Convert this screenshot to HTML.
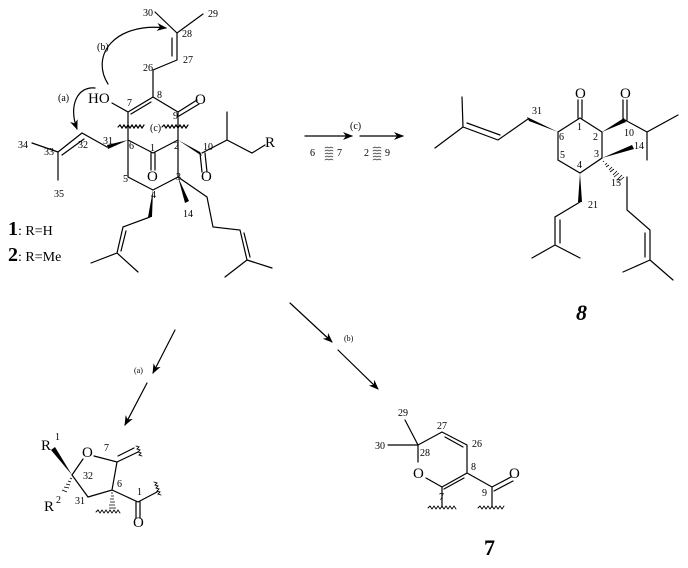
<!DOCTYPE html>
<html><head><meta charset="utf-8"><style>
html,body{margin:0;padding:0;background:#fff;}
svg{display:block;}
text{font-family:"Liberation Serif",serif;fill:#000;}
.s{font-size:10px;}
.m{font-size:15px;}
</style></head><body>
<svg width="688" height="568" viewBox="0 0 688 568" xmlns="http://www.w3.org/2000/svg">
<defs>
<marker id="ah" markerWidth="10" markerHeight="8" refX="9" refY="4" orient="auto" markerUnits="userSpaceOnUse"><path d="M0,0 L10,4 L0,8 L3,4 Z" fill="#000"/></marker>
</defs>
<g stroke="#000" stroke-width="1.2" fill="none" stroke-linecap="round">
<path d="M155,12 L177,33 L203,14 M177,33 L177,60 M172,38 L172,56 M177,60 L153,70 L153,97 L128,112 M151,102 L131,114 M153,97 L178,112 L197,100 M179,116 L199,104 M128,112 L112,103 M128,112 L128,140 M178,112 L178,140 M128,140 L153,153 L178,140 M151,153 L151,170 M155,153 L155,170 M128,140 L128,177 L153,190 L178,177 L178,140"/>
<path d="M107,147 L82,133 L58,152 M84,139 L62,155 M58,152 L32,143 M58,152 L58,180"/>
<path d="M202,153 L227,140 L227,112 M227,140 L252,153 L265,145 M200,153 L202,172 M205,153 L207,172"/>
<path d="M150,217 L123,227 L117,253 M126,231 L121,251 M117,253 L91,263 M117,253 L138,272"/>
<path d="M178,177 L207,197 L213,227 L240,230 L247,260 M244,233 L250,257 M247,260 L225,277 M247,260 L272,268"/>
<path d="M118,127 l2,-2 2,3 2,-3 2,3 2,-3 2,3 2,-3 2,3 2,-3 2,3 2,-3 2,3 2,-3 M162,127 l2,-2 2,3 2,-3 2,3 2,-3 2,3 2,-3 2,3 2,-3 2,3 2,-3 2,3 2,-3"/>
<path d="M108,84 C90,55 115,22 166,28" marker-end="url(#ah)"/>
<path d="M95,88 C78,86 68,105 77,129" marker-end="url(#ah)"/>
<path d="M305,136 L352,136" marker-end="url(#ah)"/>
<path d="M360,136 L403,136" marker-end="url(#ah)"/>
<path d="M325,148 l2,-1 2,1 2,-1 2,1 M325,151 l2,-1 2,1 2,-1 2,1 M325,154 l2,-1 2,1 2,-1 2,1 M325,157 l2,-1 2,1 2,-1 2,1 M325,160 l2,-1 2,1 2,-1 2,1 M373,148 l2,-1 2,1 2,-1 2,1 M373,151 l2,-1 2,1 2,-1 2,1 M373,154 l2,-1 2,1 2,-1 2,1 M373,157 l2,-1 2,1 2,-1 2,1 M373,160 l2,-1 2,1 2,-1 2,1" stroke-width="0.6"/>
<path d="M580,118 L602,132 M602,132 L602,158 L580,173 L558,160 L558,132 L580,118 M578,118 L578,100 M582,118 L582,100 M625,120 L647,132 L678,115 M647,132 L647,160 M623,120 L623,100 M627,120 L627,100"/>
<path d="M528,119 L498,140 L463,127 M500,135 L467,123 M463,127 L462,97 M463,127 L435,148"/>
<path d="M627,177 L627,210 L650,230 L650,260 M645,233 L645,257 M650,260 L623,272 M650,260 L673,280"/>
<path d="M580,202 L555,217 L555,245 M560,220 L560,243 M555,245 L532,258 M555,245 L580,258"/>
<path d="M175,330 L153,373" marker-end="url(#ah)"/>
<path d="M147,383 L125,425" marker-end="url(#ah)"/>
<path d="M290,303 L332,342" marker-end="url(#ah)"/>
<path d="M338,350 L378,389" marker-end="url(#ah)"/>
<path d="M94,456 L117,462 L138,452 M118,456 L134,448 M117,462 L112,490 M72,475 L83,459 M72,475 L88,497 L112,490 L138,502 L157,492 M136,502 L136,518 M140,502 L140,518"/>
<path d="M136,446 l3,1 -2,2 3,1 -2,2 3,1 -2,2 3,1 M154,482 l3,1 -2,2 3,1 -2,2 3,1 -2,2 3,1 -2,2 3,1 M96,512 l2,-2 2,3 2,-3 2,3 2,-3 2,3 2,-3 2,3 2,-3 2,3 2,-3 2,3" stroke-width="0.9"/>
<path d="M418,445 L405,420 M418,445 L388,445 M418,445 L442,432 L467,445 M445,437 L463,447 M467,445 L467,473 L442,487 M464,478 L444,489 M467,473 L492,487 L511,477 M494,491 L513,481 M442,487 L426,478 M418,462 L418,445 M442,487 L442,507 M492,487 L492,507"/>
<path d="M428,508 l2,-2 2,3 2,-3 2,3 2,-3 2,3 2,-3 2,3 2,-3 2,3 2,-3 2,3 2,-3 2,3 M478,508 l2,-2 2,3 2,-3 2,3 2,-3 2,3 2,-3 2,3 2,-3 2,3 2,-3 2,3 2,-3" stroke-width="0.9"/>
</g>
<g fill="#000">
<polygon points="128,140 107,145 108,149"/>
<polygon points="178,140 200,152 202,156"/>
<polygon points="153,190 148,217 152,217"/>
<polygon points="178,177 185,203 189,201"/>
<polygon points="558,132 527,117 529,121"/>
<polygon points="602,132 624,118 626,122"/>
<polygon points="602,158 632,145 634,149"/>
<polygon points="580,173 578,202 582,202"/>
<polygon points="72,475 51,450 55,447"/>
</g>
<g stroke="#000" stroke-width="0.8">
<path d="M604,161 l-1,1 M607,163 l-2,2 M609,165 l-3,2 M612,167 l-3,3 M614,169 l-4,3 M617,171 l-4,4 M619,173 l-5,4 M622,175 l-5,5 M624,177 l-6,5"/>
<path d="M70,478 l2,1 M68,481 l3,1 M66,484 l4,1 M64,487 l5,1 M62,490 l5,2"/>
<path d="M111,493 l2,0 M111,496 l3,0 M110,499 l4,0 M110,502 l5,0 M109,505 l6,0 M109,508 l7,0"/>
</g>
<text class="s" x="143" y="16">30</text>
<text class="s" x="208" y="17">29</text>
<text class="s" x="182" y="37">28</text>
<text class="s" x="183" y="63">27</text>
<text class="s" x="143" y="71">26</text>
<text class="s" x="157" y="98">8</text>
<text class="s" x="127" y="106">7</text>
<text class="s" x="173" y="119">9</text>
<text class="m" x="88" y="103">HO</text>
<text class="m" x="195" y="104">O</text>
<text class="s" x="150" y="131">(c)</text>
<text class="s" x="58" y="101">(a)</text>
<text class="s" x="97" y="50">(b)</text>
<text class="s" x="103" y="144">31</text>
<text class="s" x="129" y="149">6</text>
<text class="s" x="150" y="151">1</text>
<text class="s" x="174" y="149">2</text>
<text class="s" x="203" y="150">10</text>
<text class="s" x="18" y="148">34</text>
<text class="s" x="44" y="155">33</text>
<text class="s" x="78" y="148">32</text>
<text class="s" x="54" y="197">35</text>
<text class="s" x="123" y="182">5</text>
<text class="s" x="151" y="198">4</text>
<text class="s" x="176" y="180">3</text>
<text class="s" x="183" y="217">14</text>
<text class="m" x="147" y="181">O</text>
<text class="m" x="201" y="181">O</text>
<text class="m" x="265" y="147">R</text>
<text x="8" y="235" style="font-size:14px"><tspan style="font-weight:bold;font-size:20px">1</tspan>: R=H</text>
<text x="8" y="261" style="font-size:14px"><tspan style="font-weight:bold;font-size:20px">2</tspan>: R=Me</text>
<text class="s" x="350" y="129">(c)</text>
<text class="s" x="310" y="156">6</text>
<text class="s" x="337" y="156">7</text>
<text class="s" x="364" y="156">2</text>
<text class="s" x="385" y="156">9</text>
<text class="m" x="575" y="98">O</text>
<text class="m" x="620" y="98">O</text>
<text class="s" x="532" y="114">31</text>
<text class="s" x="559" y="140">6</text>
<text class="s" x="577" y="130">1</text>
<text class="s" x="593" y="140">2</text>
<text class="s" x="624" y="136">10</text>
<text class="s" x="634" y="149">14</text>
<text class="s" x="594" y="157">3</text>
<text class="s" x="560" y="158">5</text>
<text class="s" x="577" y="168">4</text>
<text class="s" x="611" y="186">15</text>
<text class="s" x="588" y="208">21</text>
<text x="576" y="320" style="font-size:22px;font-weight:bold;font-style:italic">8</text>
<text class="s" x="134" y="373" style="font-size:8px">(a)</text>
<text class="s" x="344" y="341" style="font-size:8px">(b)</text>
<text class="m" x="41" y="450">R</text>
<text class="s" x="55" y="440">1</text>
<text class="m" x="82" y="457">O</text>
<text class="s" x="104" y="451">7</text>
<text class="s" x="83" y="479">32</text>
<text class="m" x="44" y="511">R</text>
<text class="s" x="56" y="503">2</text>
<text class="s" x="75" y="504">31</text>
<text class="s" x="117" y="487">6</text>
<text class="s" x="137" y="495">1</text>
<text class="m" x="133" y="527">O</text>
<text class="s" x="398" y="416">29</text>
<text class="s" x="375" y="449">30</text>
<text class="s" x="420" y="456">28</text>
<text class="s" x="437" y="429">27</text>
<text class="s" x="472" y="447">26</text>
<text class="s" x="471" y="470">8</text>
<text class="s" x="439" y="500">7</text>
<text class="s" x="482" y="496">9</text>
<text class="m" x="413" y="478">O</text>
<text class="m" x="509" y="478">O</text>
<text x="484" y="555" style="font-size:22px;font-weight:bold">7</text>
</svg>
</body></html>
